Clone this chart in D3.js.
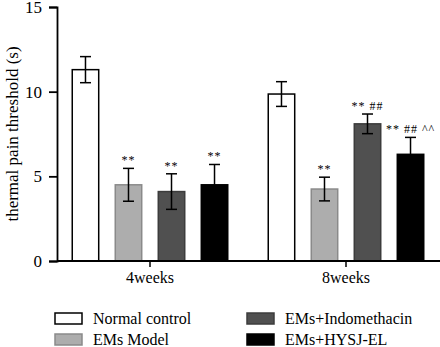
<!doctype html>
<html lang="en">
<head>
<meta charset="utf-8">
<title>thermal pain threshold</title>
<style>
  body { margin: 0; background: #fff; }
  svg { display: block; font-family: "Liberation Serif", "DejaVu Serif", serif; }
</style>
</head>
<body>
<div id="chart"></div>
<script src="https://cdn.jsdelivr.net/npm/d3@7/dist/d3.min.js"></script>
<script>
// data
var groups = ["4weeks", "8weeks"];
var series = ["Normal control", "EMs Model", "EMs+Indomethacin", "EMs+HYSJ-EL"];
var means = [
  [11.3, 4.5, 4.1, 4.5],   // 4weeks
  [9.86, 4.25, 8.1, 6.3]   // 8weeks
];
var errs = [
  [0.77, 0.97, 1.05, 1.2],
  [0.73, 0.7, 0.58, 1.0]
];
var marks = [
  ["", "**", "**", "**"],
  ["", "**", "** ##", "** ## ^^"]
];
var yTicks = [0, 5, 10, 15];

var fills = ["#ffffff", "#adadad", "#505050", "#000000"];
var strokes = ["#000000", "#8a8a8a", "#3c3c3c", "#000000"];

var W = 440, H = 347;
var margin = {top: 7, left: 57, bottom: 86};
var plotBottom = H - margin.bottom;

var svg = d3.select("#chart").append("svg")
  .attr("width", W).attr("height", H);

var y = d3.scaleLinear().domain([0, 15]).range([plotBottom, margin.top]);
var x0 = d3.scaleBand().domain(groups).range([52, 444]);
var x1 = d3.scaleBand().domain(series)
  .range([x0.bandwidth() / 2 - 78.5, x0.bandwidth() / 2 + 78.5])
  .paddingInner(0.35);

// bars
var g = svg.selectAll(".grp").data(groups).enter().append("g")
  .attr("class", "grp")
  .attr("transform", function(d) { return "translate(" + x0(d) + ",0)"; });

g.each(function(grp, gi) {
  var sel = d3.select(this);
  var rows = series.map(function(s, si) {
    return {s: s, si: si, m: means[gi][si], e: errs[gi][si], t: marks[gi][si]};
  });
  sel.selectAll("rect").data(rows).enter().append("rect")
    .attr("x", function(d) { return x1(d.s) + 0.75; })
    .attr("width", x1.bandwidth() - 1.5)
    .attr("y", function(d) { return y(d.m); })
    .attr("height", function(d) { return plotBottom - y(d.m); })
    .attr("fill", function(d) { return fills[d.si]; })
    .attr("stroke", function(d) { return strokes[d.si]; })
    .attr("stroke-width", 1.5);

  // error bars
  var eb = sel.selectAll(".eb").data(rows).enter().append("g").attr("class", "eb")
    .attr("stroke", "#000").attr("stroke-width", 1.5);
  eb.append("line")
    .attr("x1", function(d) { return x1(d.s) + x1.bandwidth() / 2; })
    .attr("x2", function(d) { return x1(d.s) + x1.bandwidth() / 2; })
    .attr("y1", function(d) { return y(d.m + d.e); })
    .attr("y2", function(d) { return y(d.m - d.e); });
  eb.append("line")
    .attr("x1", function(d) { return x1(d.s) + x1.bandwidth() / 2 - 5.5; })
    .attr("x2", function(d) { return x1(d.s) + x1.bandwidth() / 2 + 5.5; })
    .attr("y1", function(d) { return y(d.m + d.e); })
    .attr("y2", function(d) { return y(d.m + d.e); });
  eb.append("line")
    .attr("x1", function(d) { return x1(d.s) + x1.bandwidth() / 2 - 5.5; })
    .attr("x2", function(d) { return x1(d.s) + x1.bandwidth() / 2 + 5.5; })
    .attr("y1", function(d) { return y(d.m - d.e); })
    .attr("y2", function(d) { return y(d.m - d.e); });

  // significance marks
  sel.selectAll(".sig").data(rows.filter(function(d) { return d.t; })).enter().append("text")
    .attr("class", "sig")
    .attr("x", function(d) { return x1(d.s) + x1.bandwidth() / 2; })
    .attr("y", function(d) { return y(d.m + d.e) - 4; })
    .attr("text-anchor", "middle")
    .attr("font-size", 12)
    .attr("letter-spacing", 1)
    .text(function(d) { return d.t; });
});

// axes
var yAxis = d3.axisLeft(y).tickValues(yTicks).tickSize(8).tickPadding(7);
svg.append("g").attr("transform", "translate(" + margin.left + ",0)")
  .call(yAxis)
  .call(function(a) {
    a.select(".domain").attr("stroke-width", 1.8);
    a.selectAll(".tick line").attr("stroke-width", 1.8);
    a.selectAll("text").attr("font-size", 17).attr("font-family", "Liberation Serif").attr("fill", "#000");
  });

var xAxis = d3.axisBottom(x0).tickSize(6).tickPadding(5);
svg.append("g").attr("transform", "translate(0," + plotBottom + ")")
  .call(xAxis)
  .call(function(a) {
    a.select(".domain").remove();
    a.selectAll(".tick line").attr("stroke-width", 1.5);
    a.selectAll("text").attr("font-size", 16).attr("font-family", "Liberation Serif").attr("fill", "#000");
  });
svg.append("line")
  .attr("x1", margin.left).attr("x2", W)
  .attr("y1", plotBottom).attr("y2", plotBottom)
  .attr("stroke", "#000").attr("stroke-width", 1.8);

svg.append("text")
  .attr("transform", "translate(18," + 134 + ") rotate(-90)")
  .attr("text-anchor", "middle")
  .attr("font-size", 17)
  .text("thermal pain threshold (s)");

// legend
var legend = svg.selectAll(".leg").data(series).enter().append("g")
  .attr("class", "leg")
  .attr("transform", function(d, i) {
    return "translate(" + (i < 2 ? 55 : 247) + "," + (i % 2 ? 334 : 313) + ")";
  });
legend.append("rect")
  .attr("width", 27).attr("height", 11)
  .attr("fill", function(d, i) { return fills[i]; })
  .attr("stroke", function(d, i) { return strokes[i]; })
  .attr("stroke-width", 1.5);
legend.append("text")
  .attr("x", 38).attr("y", 11)
  .attr("font-size", 16)
  .text(function(d) { return d; });
</script>
</body>
</html>
